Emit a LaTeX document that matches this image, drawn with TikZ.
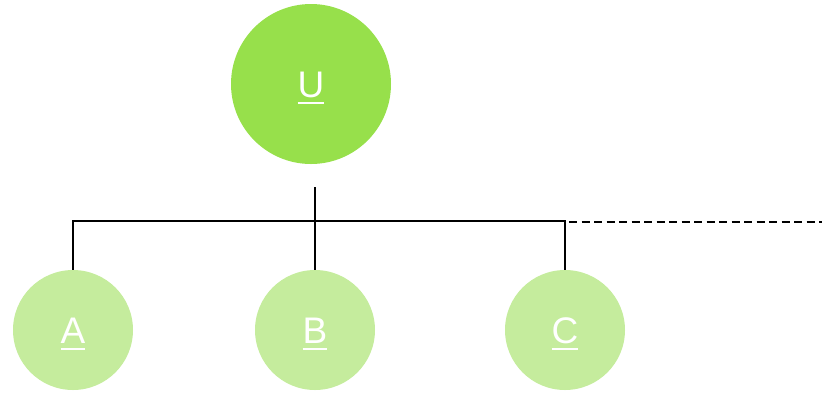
\documentclass[tikz,border=0pt]{standalone}
\usepackage{fontspec}
\setmainfont{Liberation Sans}
\usetikzlibrary{calc, positioning}
\definecolor{topgreen}{RGB}{151,224,75}
\definecolor{leafgreen}{RGB}{197,236,157}
\newcommand\bigline[1]{\fontsize{37}{40}\selectfont\setbox0\hbox{#1}\rlap{\raisebox{-6pt}{\rule{\wd0}{2pt}}}\box0}
\tikzstyle{parent} = [circle,fill=topgreen,text=white,minimum size=160pt,inner sep=0pt,text depth=0pt,text height=27pt]
\tikzstyle{leaf}   = [circle,fill=leafgreen,text=white,minimum size=120pt,inner sep=0pt,text depth=0pt,text height=27pt]
\tikzstyle{link}   = [line width=1.6pt,black]
\begin{document}
\begin{tikzpicture}[x=1pt,y=-1pt]
        \useasboundingbox (0,0) rectangle (825,392);
        \node[parent] (U) at (311,84)             {\bigline{U}};
        \node[leaf]   (A) at (73,330)             {\bigline{A}};
        \node[leaf]   (B) at ($(A) + (242,0)$)    {\bigline{B}};
        \node[leaf]   (C) at ($(B) + (250,0)$)    {\bigline{C}};
        \coordinate   (stem) at (315,187);
        \coordinate   (bus)  at (315,221);
        \coordinate   (more) at (822,222);

        \draw[link] (stem) -- (bus);
        \draw[link] (A.north) -- (A.north |- bus) -- (C.north |- bus) -- (C.north);
        \draw[link] (B.north) -- (bus);
        \draw[link, dash pattern=on 8pt off 4.5pt] ($(C.north |- more)+(4,0)$) -- (more);
    \end{tikzpicture}
\end{document}
